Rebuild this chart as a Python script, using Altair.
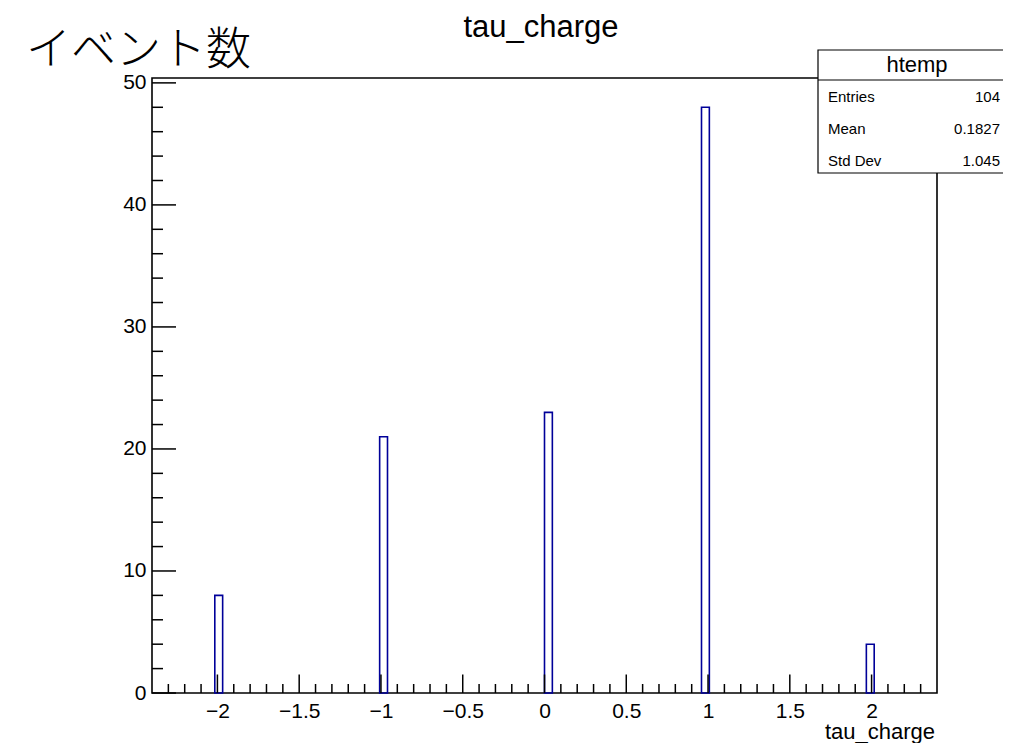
import math
import altair as alt
import pandas as pd

# ---- data ----
charge_values = [-2, -1, 0, 1, 2]
counts = [8, 21, 23, 48, 4]
n_bins = 100
x_min, x_max = -2.4, 2.4
y_max = 50.4

x_major = [-2, -1.5, -1, -0.5, 0, 0.5, 1, 1.5, 2]
x_minor = [-2.3, -2.2, -2.1, -1.9, -1.8, -1.7, -1.6, -1.4, -1.3, -1.2, -1.1,
           -0.9, -0.8, -0.7, -0.6, -0.4, -0.3, -0.2, -0.1, 0.1, 0.2, 0.3, 0.4,
           0.6, 0.7, 0.8, 0.9, 1.1, 1.2, 1.3, 1.4, 1.6, 1.7, 1.8, 1.9, 2.1, 2.2, 2.3]
y_major = [0, 10, 20, 30, 40, 50]
y_minor = [2, 4, 6, 8, 12, 14, 16, 18, 22, 24, 26, 28, 32, 34, 36, 38, 42, 44, 46, 48]

stat_names = ["Entries", "Mean", "Std Dev"]
stat_values = ["104", "0.1827", "1.045"]

title_text = "tau_charge"
x_title = "tau_charge"
y_title = "イベント数"
box_title = "htemp"

# ---- layout ----
W, H = 785, 615
PAD_L, PAD_T = 144, 70
TOTAL_W, TOTAL_H = 995, 735
FONT = "Liberation Sans"
LINE = "#000099"

bw = (x_max - x_min) / n_bins
lo, hi = [], []
for v in charge_values:
    k = math.floor((v - x_min) / bw + 1e-9)
    lo.append(x_min + k * bw)
    hi.append(x_min + (k + 1) * bw)
bars_df = pd.DataFrame({"lo": lo, "hi": hi, "count": counts, "zero": [0] * len(counts)})

xscale = alt.Scale(domain=[x_min, x_max], nice=False, zero=False)
yscale = alt.Scale(domain=[0, y_max], nice=False, zero=False)

bars = alt.Chart(bars_df).mark_rect(fill=None, stroke=LINE, strokeWidth=1.6).encode(
    x=alt.X("lo:Q", scale=xscale,
            axis=alt.Axis(values=x_major, format="~g", title=None, domain=False, ticks=False, grid=False,
                          labelFont=FONT, labelFontSize=21, labelColor="black",
                          labelPadding=7, labelFlush=False, labelOverlap=False)),
    x2="hi:Q",
    y=alt.Y("count:Q", scale=yscale,
            axis=alt.Axis(values=y_major, format="d", title=None, domain=False, ticks=False, grid=False,
                          labelFont=FONT, labelFontSize=21, labelColor="black",
                          labelPadding=6, labelFlush=False, labelOverlap=False)),
    y2="zero:Q",
)

def xticks(vals, length):
    return alt.Chart(pd.DataFrame({"v": vals})).mark_rule(color="black", strokeWidth=1.5).encode(
        x=alt.X("v:Q", scale=xscale, axis=None),
        y=alt.value(H), y2=alt.value(H - length))

def yticks(vals, length):
    return alt.Chart(pd.DataFrame({"v": vals})).mark_rule(color="black", strokeWidth=1.5).encode(
        y=alt.Y("v:Q", scale=yscale, axis=None),
        x=alt.value(0), x2=alt.value(length))

one = pd.DataFrame({"a": [0]})

title = alt.Chart(one).mark_text(text=title_text, font=FONT, fontSize=31,
                                 align="center", baseline="alphabetic", color="black").encode(
    x=alt.value(389), y=alt.value(-41))

ytitle = alt.Chart(one).mark_text(text=y_title, font="Noto Sans CJK JP", fontSize=45, fontWeight=300,
                                  align="left", baseline="alphabetic", color="black").encode(
    x=alt.value(-126), y=alt.value(-13))

xtitle = alt.Chart(one).mark_text(text=x_title, font=FONT, fontSize=22,
                                  align="right", baseline="alphabetic", color="black").encode(
    x=alt.value(783), y=alt.value(661))

box = alt.Chart(one).mark_rect(fill="white", stroke="black", strokeWidth=1.2).encode(
    x=alt.value(666), x2=alt.value(880), y=alt.value(-28), y2=alt.value(95))
box_line = alt.Chart(one).mark_rule(color="black", strokeWidth=1.2).encode(
    x=alt.value(666), x2=alt.value(880), y=alt.value(2), y2=alt.value(2))
box_head = alt.Chart(one).mark_text(text=box_title, font=FONT, fontSize=22,
                                    align="center", baseline="alphabetic", color="black").encode(
    x=alt.value(765), y=alt.value(-6))

stats_df = pd.DataFrame({"name": stat_names, "val": stat_values, "row": [0, 1, 2]})
row_y = alt.Scale(domain=[0, 2], range=[24, 87.5])
stat_names_layer = alt.Chart(stats_df).mark_text(font=FONT, fontSize=15, align="left",
                                                 baseline="alphabetic", color="black").encode(
    x=alt.value(676), y=alt.Y("row:Q", scale=row_y, axis=None), text="name:N")
stat_vals_layer = alt.Chart(stats_df).mark_text(font=FONT, fontSize=15, align="right",
                                                baseline="alphabetic", color="black").encode(
    x=alt.value(848), y=alt.Y("row:Q", scale=row_y, axis=None), text="val:N")

chart = alt.layer(
    bars,
    xticks(x_minor, 9), xticks(x_major, 18.5),
    yticks(y_minor, 11), yticks(y_major, 24),
    title, ytitle, xtitle,
    box, box_line, box_head, stat_names_layer, stat_vals_layer,
).resolve_scale(x="independent", y="independent").properties(
    width=W, height=H,
    background="white",
    autosize=alt.AutoSizeParams(type="none"),
    padding={"left": PAD_L, "top": PAD_T, "right": TOTAL_W - PAD_L - W, "bottom": TOTAL_H - PAD_T - H},
).configure_view(stroke="black", strokeWidth=1.6)

chart.save("out.html", embed_options={"renderer": "svg", "actions": False})
